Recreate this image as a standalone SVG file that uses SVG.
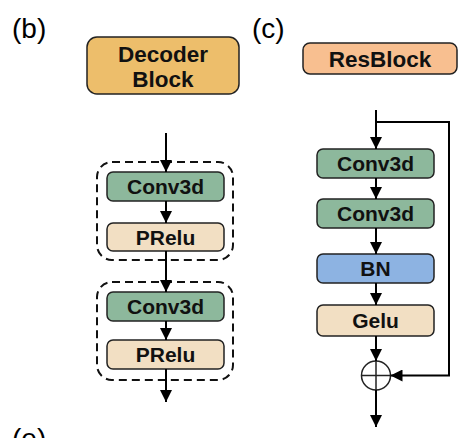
<svg xmlns="http://www.w3.org/2000/svg" width="468" height="438" viewBox="0 0 468 438">
<defs>
<marker id="ah" viewBox="0 0 10 10" refX="10" refY="5" markerWidth="6" markerHeight="6" markerUnits="strokeWidth" orient="auto">
<path d="M0,0 L10,5 L0,10 Z" fill="#000"/>
</marker>
</defs>
<style>
.lbl{font-family:"Liberation Sans",Arial,sans-serif;font-size:28px;fill:#000}
.t{font-family:"Liberation Sans",Arial,sans-serif;font-weight:bold;font-size:21px;fill:#111;text-anchor:middle}
.tt{font-size:22.5px}
.box{stroke:#222;stroke-width:1.5}
.conv{fill:#8DB89C}
.act{fill:#F2DFC3}
.bn{fill:#8DB3E2}
.dash{fill:none;stroke:#111;stroke-width:2;stroke-dasharray:8,5}
.ln{fill:none;stroke:#000;stroke-width:2}
</style>
<rect width="468" height="438" fill="#fff"/>
<text class="lbl" x="12" y="38">(b)</text>
<text class="lbl" x="252" y="38">(c)</text>
<text class="lbl" x="12" y="448">(e)</text>

<g id="decoder-title">
<rect class="box" x="87" y="37" width="152" height="57" rx="10" fill="#EDBE6B"/>
<text class="t tt" x="163" y="62">Decoder</text>
<text class="t tt" x="163" y="87">Block</text>
</g>
<g id="resblock-title">
<rect class="box" x="303" y="43" width="154" height="31" rx="7" fill="#F8BF90"/>
<text class="t tt" x="380" y="66.5">ResBlock</text>
</g>

<g id="group1"><rect class="dash" x="97" y="162" width="136" height="98" rx="15"/></g>
<g id="group2"><rect class="dash" x="97" y="282" width="136" height="98" rx="15"/></g>

<g id="b-conv1"><rect class="box conv" x="107" y="172" width="117" height="29" rx="6"/><text class="t" x="165.5" y="193.5">Conv3d</text></g>
<g id="b-prelu1"><rect class="box act" x="107" y="223" width="117" height="28" rx="6"/><text class="t" x="165.5" y="244.5">PRelu</text></g>
<g id="b-conv2"><rect class="box conv" x="107" y="292" width="117" height="29" rx="6"/><text class="t" x="165.5" y="313.5">Conv3d</text></g>
<g id="b-prelu2"><rect class="box act" x="107" y="340" width="117" height="29" rx="6"/><text class="t" x="165.5" y="362">PRelu</text></g>

<g id="c-conv1"><rect class="box conv" x="317" y="149" width="117" height="29" rx="6"/><text class="t" x="375.5" y="170.5">Conv3d</text></g>
<g id="c-conv2"><rect class="box conv" x="317" y="199" width="117" height="29" rx="6"/><text class="t" x="375.5" y="220.5">Conv3d</text></g>
<g id="c-bn"><rect class="box bn" x="317" y="254" width="117" height="29" rx="6"/><text class="t" x="375.5" y="276">BN</text></g>
<g id="c-gelu"><rect class="box act" x="317" y="305" width="117" height="31" rx="6"/><text class="t" x="375.5" y="328">Gelu</text></g>
<g id="c-add">
<circle cx="376" cy="375.5" r="14.5" fill="#fff" stroke="#222" stroke-width="1.5"/>
<path d="M361.5,375.5 H390.5 M376,361 V390" stroke="#222" stroke-width="1.5"/>
</g>

<g id="connectors">
<path class="ln" d="M166,133 V172" marker-end="url(#ah)"/>
<path class="ln" d="M166,201 V223" marker-end="url(#ah)"/>
<path class="ln" d="M166,251 V292" marker-end="url(#ah)"/>
<path class="ln" d="M166,321 V340" marker-end="url(#ah)"/>
<path class="ln" d="M166,369 V402" marker-end="url(#ah)"/>
<path class="ln" d="M376,110 V149" marker-end="url(#ah)"/>
<path class="ln" d="M376,178 V199" marker-end="url(#ah)"/>
<path class="ln" d="M376,228 V254" marker-end="url(#ah)"/>
<path class="ln" d="M376,283 V305" marker-end="url(#ah)"/>
<path class="ln" d="M376,336 V361" marker-end="url(#ah)"/>
<path class="ln" d="M376,390 V427" marker-end="url(#ah)"/>
<path class="ln" d="M376,122 H449 V375.5 H390.5" marker-end="url(#ah)"/>
</g>
</svg>
